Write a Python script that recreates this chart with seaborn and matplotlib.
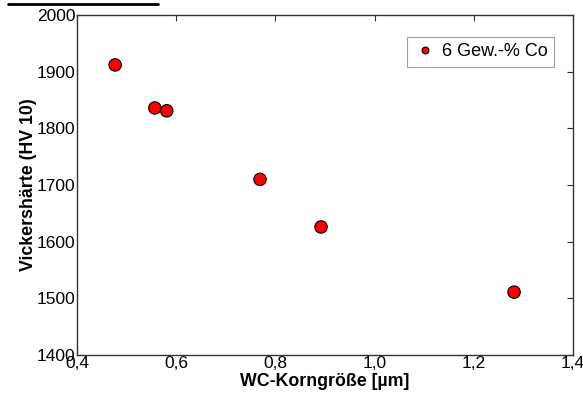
import matplotlib
matplotlib.use("Agg")
import matplotlib.pyplot as plt
import seaborn as sns
import pandas as pd
from matplotlib.lines import Line2D

korngroesse = [0.477, 0.557, 0.581, 0.769, 0.892, 1.281]
haerte = [1912, 1836, 1831, 1710, 1626, 1511]
serie = "6 Gew.-% Co"

sns.set_theme(style="white")
plt.rcParams['font.family'] = ['Liberation Sans', 'DejaVu Sans']
plt.rcParams['text.color'] = 'black'
plt.rcParams['axes.labelcolor'] = 'black'

df = pd.DataFrame({"x": korngroesse, "y": haerte, "s": serie})

fig = plt.figure(figsize=(5.83, 3.96), dpi=100)
ax = fig.add_axes([0.132, 0.1035, 0.851, 0.8585])
sns.scatterplot(data=df, x="x", y="y", hue="s", palette=["#ff0000"], s=80,
                edgecolor="black", linewidth=0.8, ax=ax, zorder=3)

ax.set_xlim(0.4, 1.4)
ax.set_ylim(1400, 2000)
ax.set_xticks([0.4, 0.6, 0.8, 1.0, 1.2, 1.4])
ax.set_xticklabels(["0,4", "0,6", "0,8", "1,0", "1,2", "1,4"])
ax.set_yticks([1400, 1500, 1600, 1700, 1800, 1900, 2000])
ax.tick_params(direction="in", length=4, width=0.8, colors="#333333",
               labelcolor="black", labelsize=12.5, top=True, right=True, pad=1)
for sp in ax.spines.values():
    sp.set_color("#333333")
    sp.set_linewidth(1.0)

ax.set_xlabel("WC-Korngröße [µm]", fontsize=12.8, fontweight="bold", labelpad=1)
ax.set_ylabel("Vickershärte (HV 10)", fontsize=12.8, fontweight="bold", labelpad=0)

leg = ax.legend(loc="upper right", bbox_to_anchor=(0.962, 0.935), borderaxespad=0,
                fontsize=13, frameon=True, fancybox=False, handletextpad=0.3,
                borderpad=0.35, handlelength=1.3, markerscale=0.55)
leg.get_frame().set_edgecolor("#888888")
leg.get_frame().set_linewidth(0.8)

fig.add_artist(Line2D([8 / 583, 158 / 583], [1 - 4 / 396, 1 - 4 / 396],
                      color="black", linewidth=2, transform=fig.transFigure))

fig.savefig("out.png", dpi=100)
